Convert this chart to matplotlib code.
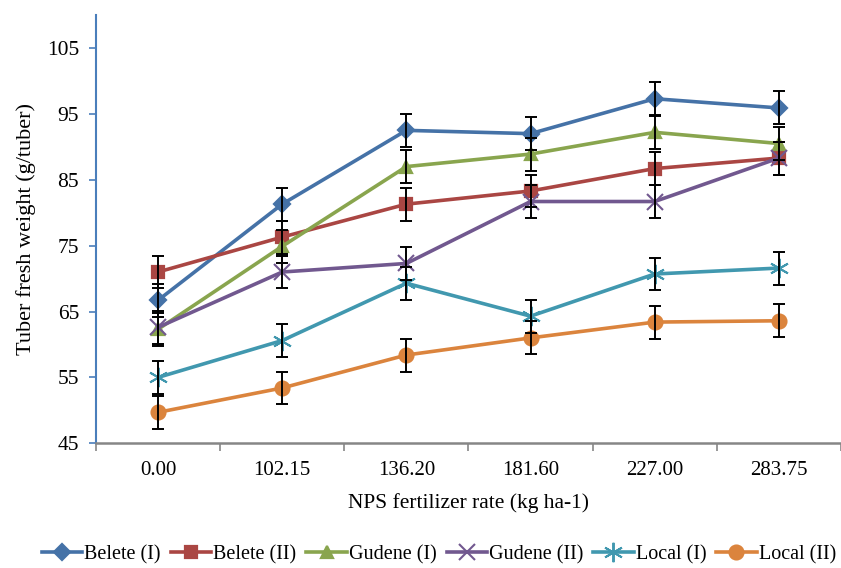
import matplotlib
matplotlib.use("Agg")
import matplotlib.pyplot as plt
import numpy as np

plt.rcParams['font.family'] = ['Liberation Serif', 'DejaVu Serif']

rates = ["0.00", "102.15", "136.20", "181.60", "227.00", "283.75"]

belete_1 = [66.7, 81.3, 92.5, 92.0, 97.3, 95.9]
belete_2 = [71.0, 76.3, 81.3, 83.3, 86.7, 88.3]
gudene_1 = [62.3, 74.9, 87.0, 88.9, 92.2, 90.5]
gudene_2 = [62.6, 71.0, 72.3, 81.7, 81.7, 88.3]
local_1 = [55.0, 60.6, 69.3, 64.3, 70.7, 71.6]
local_2 = [49.7, 53.4, 58.4, 61.0, 63.4, 63.6]
err = [2.5, 2.5, 2.5, 2.5, 2.5, 2.5]

names = ["Belete (I)", "Belete (II)", "Gudene (I)", "Gudene (II)", "Local (I)", "Local (II)"]
series = [belete_1, belete_2, gudene_1, gudene_2, local_1, local_2]
colors = ['#4572A7', '#AA4643', '#89A54E', '#71588F', '#4198AF', '#DB843D']
markers = ['D', 's', '^', 'x', (6, 2, 0), 'o']
sizes = [8, 9, 9, 11, 14, 10]
edge_w = [1.6, 1.6, 1.6, 1.5, 1.4, 1.6]

x = np.arange(len(rates))

fig = plt.figure(figsize=(8.41, 5.68), dpi=100)
ax = fig.add_axes([0.114, 0.2195, 0.886, 0.754])

for vals, name, c, m, s, w in zip(series, names, colors, markers, sizes, edge_w):
    ax.plot(x, vals, color=c, lw=2.6, marker=m, ms=s, mew=w,
            mec=c, mfc=c, label=name, zorder=2)
    ax.errorbar(x, vals, yerr=err, fmt='none', ecolor='black',
                elinewidth=1.4, capsize=4, capthick=1.4, zorder=3)

ax.set_xlim(-0.5, 5.5)
ax.set_ylim(45, 110)
ax.set_yticks(range(45, 106, 10))
ax.set_xticks(x)
ax.set_xticklabels(rates)
ax.set_xticks(np.arange(-0.5, 5.6, 1), minor=True)
ax.tick_params(axis='x', which='major', length=0, labelsize=15, pad=13)
ax.tick_params(axis='x', which='minor', length=6, width=1.2, color='#868686')
ax.tick_params(axis='y', length=5, width=1.2, color='#4A7EBB', labelsize=15.5, pad=7)

for side in ['top', 'right']:
    ax.spines[side].set_visible(False)
ax.spines['left'].set_color('#4A7EBB')
ax.spines['left'].set_linewidth(1.5)
ax.spines['bottom'].set_color('#868686')
ax.spines['bottom'].set_linewidth(1.8)

ax.set_xlabel("NPS fertilizer rate (kg ha-1)", fontsize=15.5, labelpad=9)
ax.set_ylabel("Tuber fresh weight (g/tuber)", fontsize=16, labelpad=8)

fig.legend(loc='lower center', bbox_to_anchor=(0.522, -0.025), ncol=6,
           frameon=False, fontsize=14.5, handlelength=2.0, handletextpad=0.1,
           columnspacing=0.5)

fig.savefig("out.png", dpi=100)
